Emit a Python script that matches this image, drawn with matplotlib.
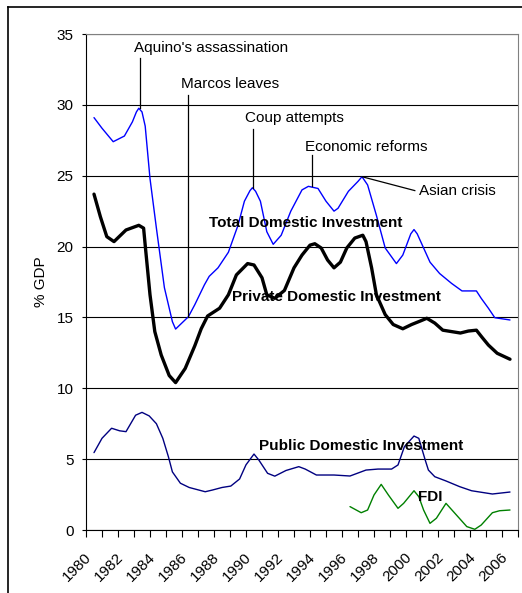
import numpy as np
import matplotlib.pyplot as plt
from matplotlib.lines import Line2D
from matplotlib.transforms import ScaledTranslation

plt.rcParams['font.family'] = ['Liberation Sans', 'DejaVu Sans']

# Total domestic investment (% GDP)
total_yr = [1980.0, 1980.5, 1981.2, 1981.9, 1982.4, 1982.65, 1982.8, 1983.0, 1983.2, 1983.5,
            1983.9, 1984.4, 1984.9, 1985.1, 1985.9, 1986.3, 1986.9, 1987.2, 1987.75, 1988.4,
            1989.0, 1989.4, 1989.75, 1989.9, 1990.1, 1990.4, 1990.8, 1991.2, 1991.7, 1992.3,
            1993.0, 1993.4, 1994.0, 1994.5, 1995.0, 1995.25, 1995.9, 1996.5, 1996.75, 1997.1,
            1997.65, 1998.2, 1998.9, 1999.3, 1999.8, 2000.0, 2000.2, 2000.6, 2001.0, 2001.6,
            2002.35, 2003.0, 2003.9, 2004.2, 2004.65, 2005.05, 2006.0]
total_val = [29.1, 28.35, 27.4, 27.8, 28.8, 29.5, 29.76, 29.5, 28.5, 24.8,
             21.3, 17.1, 14.7, 14.18, 15.05, 15.9, 17.3, 17.9, 18.5, 19.6,
             21.5, 23.2, 23.95, 24.15, 23.9, 23.2, 21.05, 20.16, 20.8, 22.5,
             24.0, 24.25, 24.1, 23.2, 22.5, 22.7, 23.9, 24.6, 24.93, 24.35,
             22.2, 19.9, 18.8, 19.4, 20.9, 21.2, 20.9, 19.9, 18.9, 18.1,
             17.4, 16.87, 16.87, 16.35, 15.65, 14.98, 14.82]

# Private domestic investment
priv_yr = [1980.0, 1980.4, 1980.8, 1981.25, 1982.0, 1982.8, 1983.1, 1983.2, 1983.5, 1983.8,
           1984.2, 1984.7, 1985.1, 1985.7, 1986.3, 1986.7, 1987.1, 1987.85, 1988.4, 1988.9,
           1989.6, 1990.0, 1990.5, 1990.8, 1991.3, 1991.9, 1992.5, 1993.0, 1993.5, 1993.8,
           1994.2, 1994.6, 1995.0, 1995.4, 1995.8, 1996.3, 1996.8, 1997.0, 1997.35, 1997.65,
           1998.2, 1998.7, 1999.3, 1999.85, 2000.4, 2000.8, 2001.3, 2001.8, 2002.9, 2003.4,
           2003.9, 2004.25, 2004.65, 2005.2, 2006.0]
priv_val = [23.7, 22.1, 20.7, 20.35, 21.17, 21.5, 21.3, 20.1, 16.6, 14.0,
            12.35, 10.9, 10.4, 11.4, 13.0, 14.2, 15.1, 15.65, 16.6, 18.0,
            18.8, 18.7, 17.8, 16.6, 16.35, 16.9, 18.5, 19.4, 20.1, 20.2,
            19.9, 19.05, 18.5, 18.9, 19.9, 20.6, 20.8, 20.35, 18.5, 16.6,
            15.2, 14.5, 14.2, 14.5, 14.75, 14.94, 14.6, 14.1, 13.9, 14.04,
            14.1, 13.6, 13.05, 12.47, 12.05]

# Public domestic investment
pub_yr = [1980.0, 1980.5, 1981.1, 1981.6, 1982.0, 1982.6, 1983.0, 1983.45, 1983.9, 1984.3,
          1984.65, 1984.9, 1985.4, 1985.95, 1986.95, 1987.4, 1988.0, 1988.55, 1989.1, 1989.5,
          1990.0, 1990.3, 1990.85, 1991.3, 1992.0, 1992.8, 1993.2, 1993.9, 1995.0, 1996.0,
          1997.0, 1997.75, 1998.6, 1999.0, 1999.4, 2000.0, 2000.3, 2000.7, 2000.9, 2001.3,
          2002.0, 2002.85, 2003.6, 2004.9, 2006.0]
pub_val = [5.46, 6.47, 7.18, 7.0, 6.94, 8.1, 8.3, 8.05, 7.5, 6.47,
           5.17, 4.1, 3.3, 3.0, 2.7, 2.82, 3.0, 3.1, 3.6, 4.6,
           5.36, 4.94, 4.0, 3.8, 4.2, 4.47, 4.3, 3.88, 3.88, 3.81,
           4.23, 4.3, 4.3, 4.59, 5.88, 6.63, 6.47, 4.94, 4.23, 3.76,
           3.46, 3.06, 2.77, 2.54, 2.68]

# FDI
fdi_yr = [1996.0, 1996.7, 1997.1, 1997.5, 1997.95, 1998.4, 1999.0, 1999.35, 2000.0, 2000.3,
          2000.6, 2001.0, 2001.4, 2002.0, 2002.65, 2003.3, 2003.8, 2004.2, 2004.9, 2005.35,
          2006.0]
fdi_val = [1.65, 1.22, 1.41, 2.47, 3.22, 2.47, 1.53, 1.88, 2.77, 2.35,
           1.41, 0.47, 0.83, 1.88, 1.06, 0.24, 0.05, 0.35, 1.22, 1.36,
           1.41]

years = np.arange(1980, 2007)
label_years = years[::2]

fig = plt.figure(figsize=(5.22, 5.93), dpi=100)
ax = fig.add_axes([86/522, 1 - 530/593, 432/522, 496/593])

line_kw = dict(solid_joinstyle='round', solid_capstyle='round')
ax.plot(total_yr, total_val, color='#0000ff', lw=1.0, **line_kw)
ax.plot(priv_yr, priv_val, color='black', lw=2.4, **line_kw)
ax.plot(pub_yr, pub_val, color='#000080', lw=1.0, **line_kw)
ax.plot(fdi_yr, fdi_val, color='#008000', lw=1.0, **line_kw)

ax.set_xlim(1979.5, 2006.5)
ax.set_ylim(0, 35)
ax.set_yticks(np.arange(0, 36, 5))
ax.yaxis.grid(True, color='black', lw=0.8)
ax.set_axisbelow(True)

# tick marks between categories, labels every second year
ax.set_xticks(np.arange(1979.5, 2007, 1.0))
ax.set_xticklabels([])
ax.set_xticks(label_years, minor=True)
ax.set_xticklabels([str(y) for y in label_years], minor=True, rotation=45,
                   ha='right', va='center', rotation_mode='anchor', fontsize=11)
ax.tick_params(axis='x', which='major', length=5, direction='out', color='black')
ax.tick_params(axis='x', which='minor', length=0, pad=14)
shift = ScaledTranslation(-0.05, -0.06, fig.dpi_scale_trans)
for lab in ax.get_xticklabels(minor=True):
    lab.set_transform(lab.get_transform() + shift)
ax.tick_params(axis='y', length=3, direction='out', labelsize=11, pad=6)
ax.set_ylabel('% GDP', fontsize=11, labelpad=6)

for s in ['top', 'right']:
    ax.spines[s].set_color('#808080')
for s in ['left', 'bottom']:
    ax.spines[s].set_color('black')

# event annotations
ax.text(1987.3, 34.0, "Aquino's assassination", ha='center', va='center', fontsize=11)
ax.plot([1982.86, 1982.86], [33.3, 29.8], color='black', lw=0.9)
ax.text(1988.5, 31.5, "Marcos leaves", ha='center', va='center', fontsize=11)
ax.plot([1985.86, 1985.86], [30.7, 15.0], color='black', lw=0.9)
ax.text(1992.5, 29.1, "Coup attempts", ha='center', va='center', fontsize=11)
ax.plot([1989.94, 1989.94], [28.3, 24.15], color='black', lw=0.9)
ax.text(1997.0, 27.05, "Economic reforms", ha='center', va='center', fontsize=11)
ax.plot([1993.6, 1993.6], [26.46, 24.3], color='black', lw=0.9)
ax.text(2000.3, 23.95, "Asian crisis", ha='left', va='center', fontsize=11)
ax.plot([1996.75, 2000.05], [24.93, 23.95], color='black', lw=0.9)

# series labels
ax.text(1993.2, 21.65, "Total Domestic Investment", ha='center', va='center',
        fontsize=11, weight='bold')
ax.text(1995.15, 16.42, "Private Domestic Investment", ha='center', va='center',
        fontsize=11, weight='bold')
ax.text(1996.7, 5.95, "Public Domestic Investment", ha='center', va='center',
        fontsize=11, weight='bold')
ax.text(2001.04, 2.31, "FDI", ha='center', va='center', fontsize=11, weight='bold')

# outer chart frame
fig.add_artist(Line2D([8/522, 8/522], [0, 1 - 6.5/593], color='black', lw=1.2,
                      transform=fig.transFigure))
fig.add_artist(Line2D([8/522, 1], [1 - 6.5/593, 1 - 6.5/593], color='black', lw=1.2,
                      transform=fig.transFigure))

fig.savefig('out.png', dpi=100)
